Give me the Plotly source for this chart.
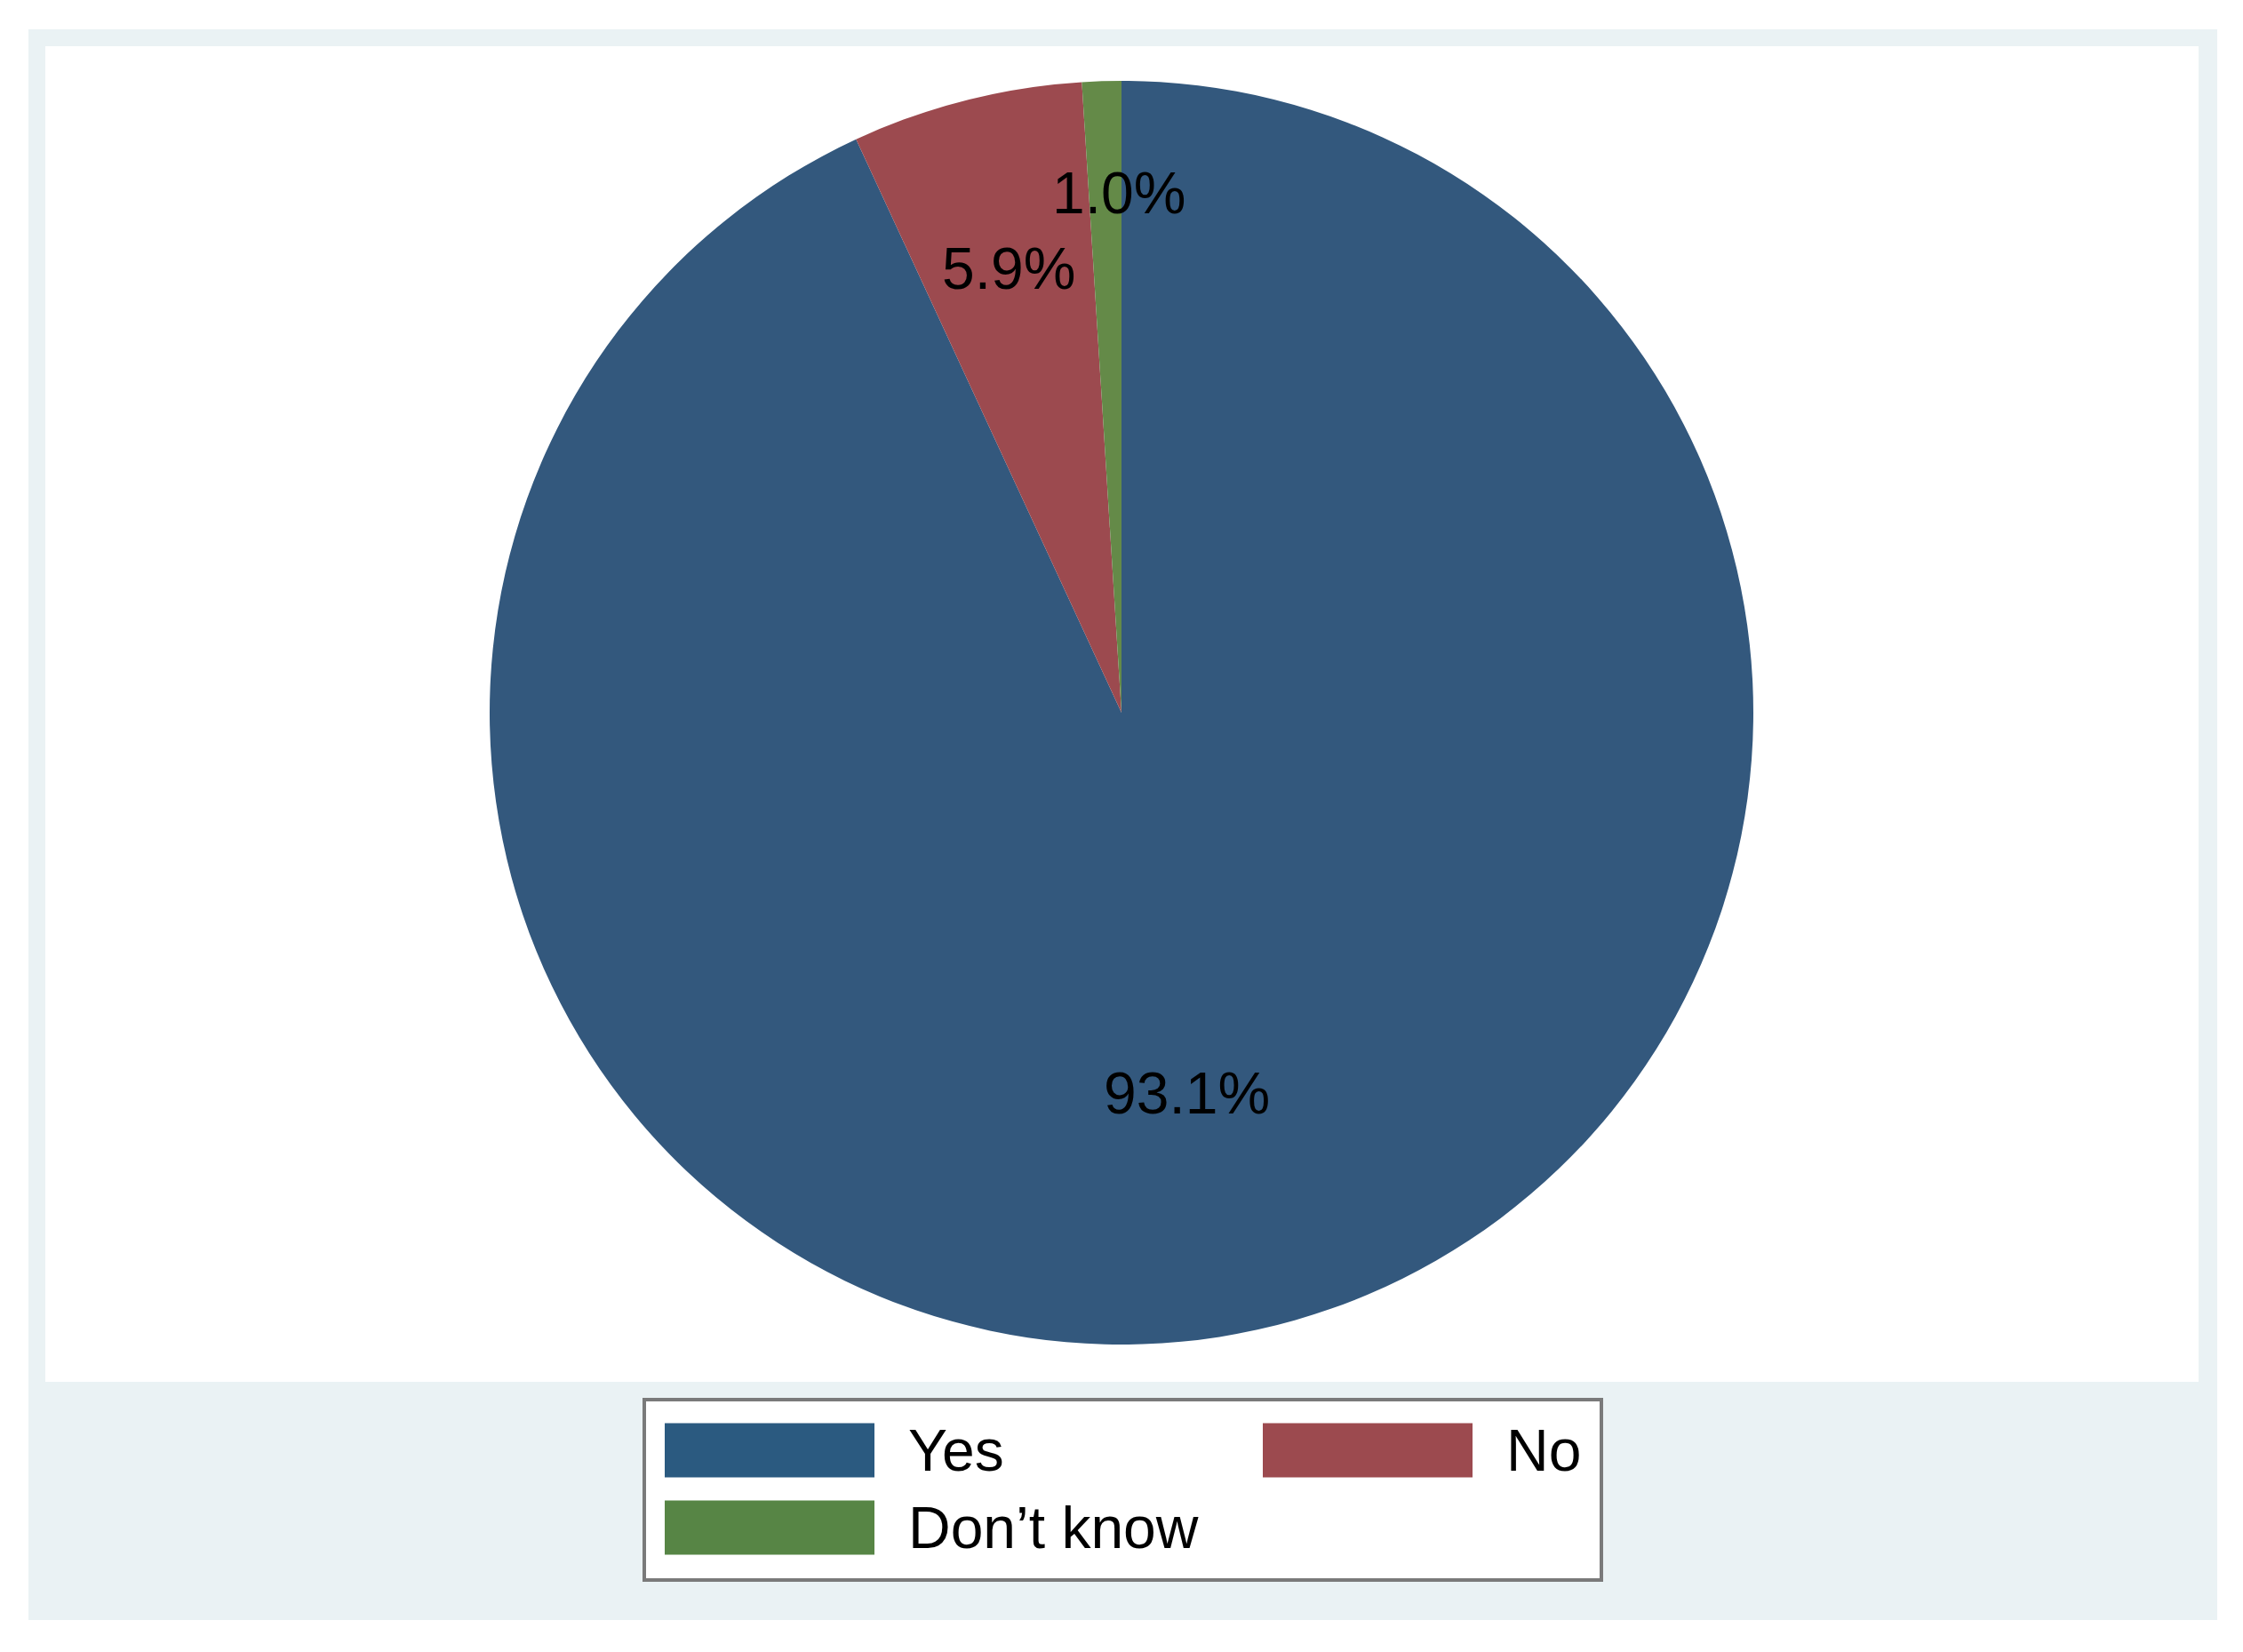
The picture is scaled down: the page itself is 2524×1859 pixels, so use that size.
import math

import plotly.graph_objects as go

W, H = 2524, 1859
# the html page body has an 8px margin, so the figure is drawn smaller and shifted
OFF = 8
FW, FH = W - 2 * OFF, H - 2 * OFF

LABELS = ["Yes", "No", "Don\u2019t know"]
VALUES = [93.1, 5.9, 1.0]
TEXTS = ["93.1%", "5.9%", "1.0%"]

COLORS = ["#33587D", "#9C4A4F", "#648A48"]
SWATCH_COLORS = ["#2B5A80", "#9C4A4F", "#578545"]
_FONT = "Liberation Sans, Arial, Helvetica, sans-serif"

# pie geometry in page pixels
CX, CY, R = 1262, 802, 711
LABEL_RADIUS = [0.60, 0.725, 0.83]
LABEL_NUDGE = [(-18, 11), (0, 0), (16, 5)]  # small pixel tweaks (dx, dy down)


def px(x):
    return (x - OFF) / FW


def py(y):
    return 1 - (y - OFF) / FH


fig = go.Figure()
fig.add_trace(
    go.Pie(
        labels=LABELS,
        values=VALUES,
        sort=False,
        direction="clockwise",
        rotation=0,
        marker=dict(colors=COLORS, line=dict(width=0)),
        textinfo="none",
        hoverinfo="label+percent",
        showlegend=False,
        domain=dict(x=[px(CX - R), px(CX + R)], y=[py(CY + R), py(CY - R)]),
    )
)

# slice labels, placed on each slice's mid angle
total = sum(VALUES)
cum = 0.0
annotations = []
for i, (v, t) in enumerate(zip(VALUES, TEXTS)):
    mid = (cum + v / 2) / total * 2 * math.pi
    cum += v
    d = LABEL_RADIUS[i] * R
    nx, ny = LABEL_NUDGE[i]
    annotations.append(
        dict(
            x=px(CX + d * math.sin(mid) + nx),
            y=py(CY - d * math.cos(mid) + ny),
            xref="paper",
            yref="paper",
            text=t,
            showarrow=False,
            font=dict(family=_FONT, size=66, color="#000000"),
            xanchor="center",
            yanchor="middle",
        )
    )

shapes = [
    # outer graph region
    dict(type="rect", xref="paper", yref="paper", layer="below",
         x0=px(32), x1=px(2495), y0=py(1823), y1=py(33),
         fillcolor="#EAF2F4", line=dict(width=0)),
    # plot region
    dict(type="rect", xref="paper", yref="paper", layer="below",
         x0=px(51), x1=px(2474), y0=py(1555), y1=py(52),
         fillcolor="#FFFFFF", line=dict(width=0)),
    # legend box
    dict(type="rect", xref="paper", yref="paper",
         x0=px(725), x1=px(1802), y0=py(1778), y1=py(1575),
         fillcolor="#FFFFFF", line=dict(color="#7A7A7A", width=4)),
]

# legend: two columns, wraps after two entries
col_x = [748, 1421]
row_y = [1632, 1719]
sw_w, sw_h = 236, 61
for i, name in enumerate(LABELS):
    x0 = col_x[i % 2]
    yc = row_y[i // 2]
    shapes.append(
        dict(type="rect", xref="paper", yref="paper",
             x0=px(x0), x1=px(x0 + sw_w), y0=py(yc + sw_h / 2), y1=py(yc - sw_h / 2),
             fillcolor=SWATCH_COLORS[i], line=dict(width=0))
    )
    annotations.append(
        dict(x=px(x0 + sw_w + 36), y=py(yc), xref="paper", yref="paper",
             text=name, showarrow=False, xanchor="left", yanchor="middle",
             font=dict(family=_FONT, size=66, color="#000000"))
    )

fig.update_layout(
    width=FW,
    height=FH,
    margin=dict(l=0, r=0, t=0, b=0),
    paper_bgcolor="#FFFFFF",
    plot_bgcolor="#FFFFFF",
    font=dict(family=_FONT, color="#000000"),
    shapes=shapes,
    annotations=annotations,
)

fig.write_html("out.html")
